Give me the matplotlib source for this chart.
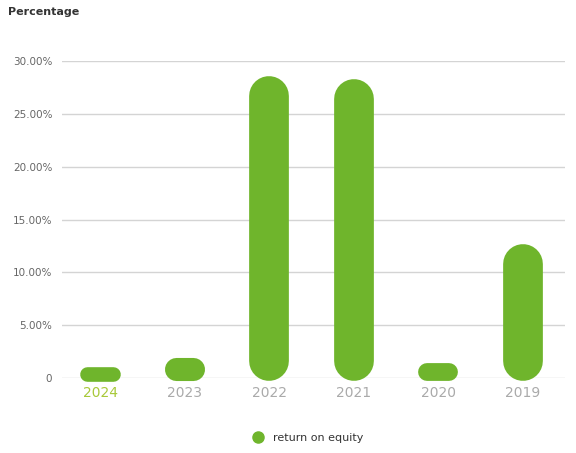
import matplotlib
matplotlib.use("Agg")
import matplotlib.pyplot as plt
from matplotlib.lines import Line2D

years = ["2024", "2023", "2022", "2021", "2020", "2019"]
roe = [1.1, 1.9, 28.6, 28.3, 1.4, 12.7]
ytick_vals = [0, 5, 10, 15, 20, 25, 30]
ytick_labels = ["0", "5.00%", "10.00%", "15.00%", "20.00%", "25.00%", "30.00%"]

GREEN = "#6fb52c"
GRID = "#d4d4d4"
TICK = "#666666"

W, H, DPI = 576, 453, 100
fig = plt.figure(figsize=(W / DPI, H / DPI), dpi=DPI)
ax = fig.add_axes([62 / W, 1 - 378 / H, (565 - 62) / W, (378 - 61) / H])

x = list(range(len(years)))
ax.set_xlim(-0.45, 5.5)
ax.set_ylim(0, 30)

for s in ax.spines.values():
    s.set_visible(False)
ax.set_yticks(ytick_vals)
ax.set_yticklabels(ytick_labels, fontsize=7.5, color=TICK)
ax.set_xticks(x)
ax.set_xticklabels(years, fontsize=10, color="#aaaaaa")
ax.get_xticklabels()[0].set_color("#a8c93a")
ax.tick_params(length=0)
ax.tick_params(axis="y", pad=7)
ax.tick_params(axis="x", pad=6)
ax.grid(axis="y", color=GRID, linewidth=1)
ax.set_axisbelow(True)

# bars laid out by matplotlib, then redrawn as capsules (round-capped strokes)
bars = ax.bar(x, roe, width=0.47, color=GREEN)
fig.canvas.draw()
px2pt = 72 / DPI
for b in bars:
    (x0, y0), (x1, y1) = ax.transData.transform(
        [(b.get_x(), 0), (b.get_x() + b.get_width(), b.get_height())])
    y0 -= 3
    w, h = x1 - x0, y1 - y0
    cx, cy = (x0 + x1) / 2, (y0 + y1) / 2
    if h >= w:
        r = w / 2
        xs, ys, lw = [cx, cx], [y0 + r, y1 - r], w
    else:
        r = h / 2
        xs, ys, lw = [x0 + r, x1 - r], [cy, cy], h
    ln = Line2D(xs, ys, linewidth=lw * px2pt, color=GREEN,
                solid_capstyle="round", transform=None, zorder=3)
    fig.add_artist(ln)
    b.set_visible(False)

fig.text(8 / W, 1 - 12 / H, "Percentage", fontsize=8, fontweight="bold",
         color="#333333", va="center", ha="left")

handle = Line2D([], [], marker="o", linestyle="none", markersize=8,
                markerfacecolor=GREEN, markeredgecolor=GREEN)
fig.legend([handle], ["return on equity"], loc="center",
           bbox_to_anchor=(305 / W, 1 - 438 / H), frameon=False,
           fontsize=8, handletextpad=0.3, labelcolor="#333333")

fig.savefig("out.png", dpi=DPI)
